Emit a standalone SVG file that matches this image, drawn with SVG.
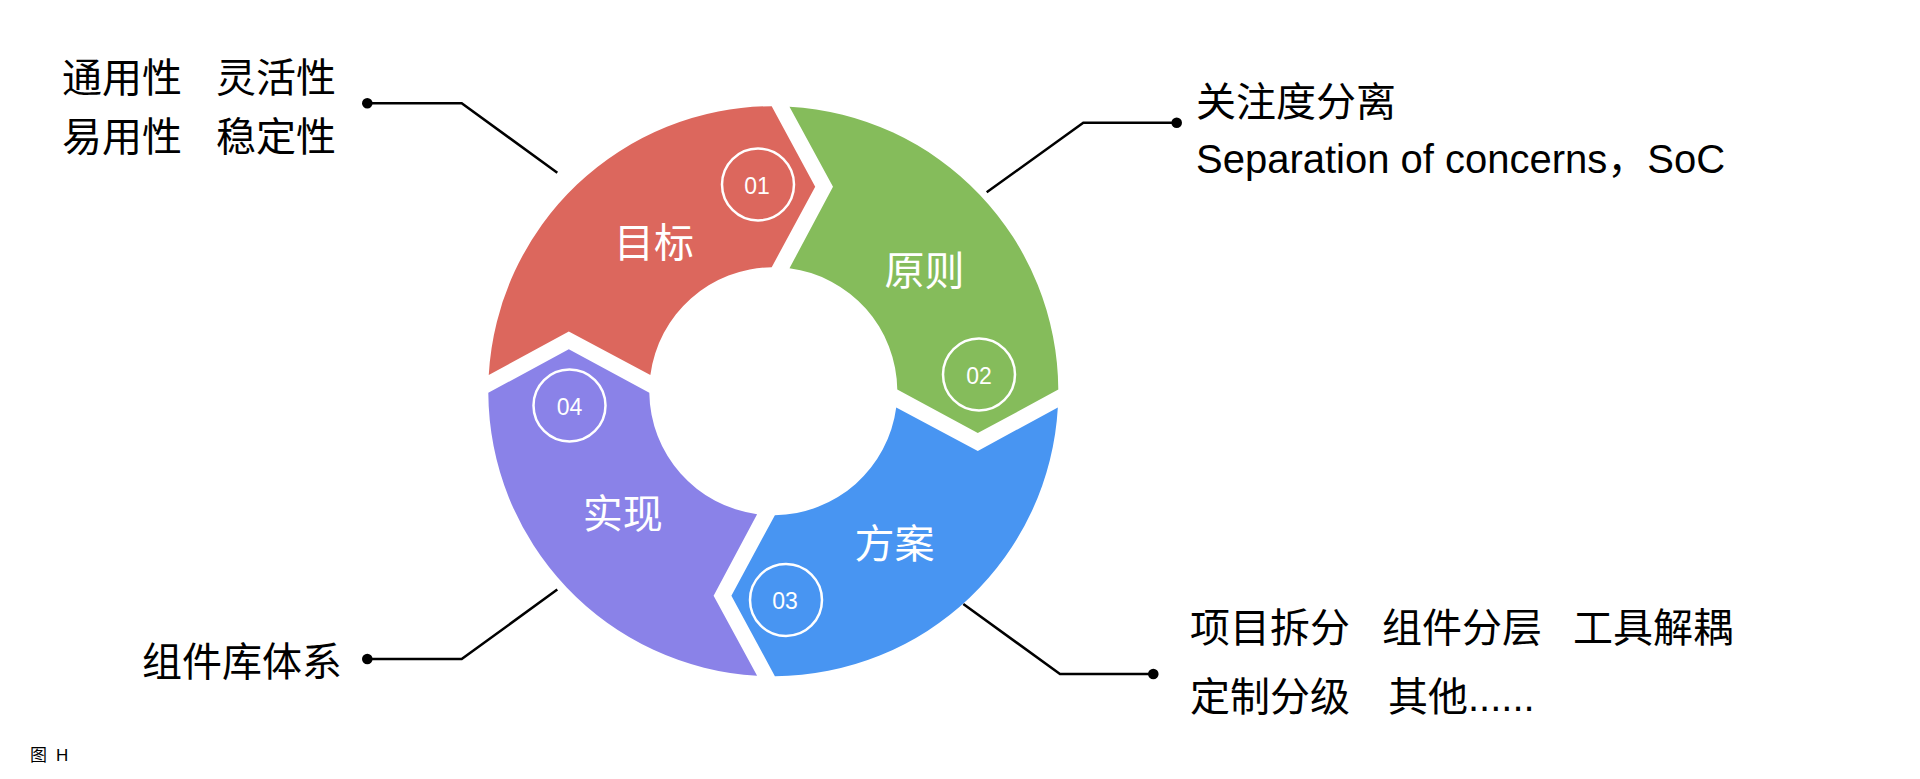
<svg xmlns="http://www.w3.org/2000/svg" xmlns:xlink="http://www.w3.org/1999/xlink" width="1920" height="779" viewBox="0 0 1920 779">
  <style>
    .txt { font-family: "Liberation Sans", "Noto Sans CJK SC", sans-serif; font-size: 40px; fill: #000; }
    .lbl { font-family: "Noto Sans CJK SC", "Liberation Sans", sans-serif; font-size: 40px; fill: #fff; text-anchor: middle; }
    .num { font-family: "Liberation Sans", "Noto Sans CJK SC", sans-serif; font-size: 23px; fill: #fff; text-anchor: middle; }
    .ring { fill: none; stroke: #fff; stroke-width: 2.5; }
    .conn { fill: none; stroke: #000; stroke-width: 2.5; stroke-linejoin: miter; }
    .dot { fill: #000; }
    .cap { font-family: "Liberation Sans", "Noto Sans CJK SC", sans-serif; font-size: 17px; fill: #000; }
  </style>
  <defs>
    <path id="seg" d="M -284.54 -16.2 A 285 285 0 0 1 -1.6 -285 L 41.9 -204.5 L -1.6 -123.99 A 124 124 0 0 0 -122.94 -16.2 L -204.5 -59.7 Z"/>
  </defs>
  <rect width="1920" height="779" fill="#fff"/>

  <g id="node-goal">
    <use xlink:href="#seg" transform="translate(773.3 391.2)" fill="#DC675D"/>
    <circle class="ring" cx="758" cy="184.5" r="36"/>
    <text class="num" x="757" y="194">01</text>
    <text class="lbl" x="654" y="257">目标</text>
  </g>
  <g id="node-principle">
    <use xlink:href="#seg" transform="translate(773.3 391.2) rotate(90)" fill="#85BC5B"/>
    <circle class="ring" cx="979" cy="374.5" r="36"/>
    <text class="num" x="979" y="383.5">02</text>
    <text class="lbl" x="924.5" y="285">原则</text>
  </g>
  <g id="node-plan">
    <use xlink:href="#seg" transform="translate(773.3 391.2) rotate(180)" fill="#4895F2"/>
    <circle class="ring" cx="786" cy="600" r="36"/>
    <text class="num" x="785" y="608.5">03</text>
    <text class="lbl" x="894.5" y="558">方案</text>
  </g>
  <g id="node-impl">
    <use xlink:href="#seg" transform="translate(773.3 391.2) rotate(270)" fill="#8A82E8"/>
    <circle class="ring" cx="569.5" cy="405.5" r="36"/>
    <text class="num" x="569.5" y="415">04</text>
    <text class="lbl" x="622.7" y="528">实现</text>
  </g>

  <g id="connectors">
    <polyline class="conn" points="557.3,172.7 461.7,103.3 367.3,103.3"/>
    <circle class="dot" cx="367.3" cy="103.3" r="5.3"/>
    <polyline class="conn" points="986.7,192.3 1083.3,122.7 1176.7,122.7"/>
    <circle class="dot" cx="1176.7" cy="122.7" r="5.3"/>
    <polyline class="conn" points="963.3,604 1060,674 1153.3,674"/>
    <circle class="dot" cx="1153.3" cy="674" r="5.3"/>
    <polyline class="conn" points="557.3,589.6 461.7,659 367.3,659"/>
    <circle class="dot" cx="367.3" cy="659" r="5.3"/>
  </g>

  <g id="note-goal">
    <text class="txt" y="91.5"><tspan x="62">通用性</tspan> <tspan x="216">灵活性</tspan></text>
    <text class="txt" y="150.5"><tspan x="62">易用性</tspan> <tspan x="216">稳定性</tspan></text>
  </g>
  <g id="note-principle">
    <text class="txt" x="1196" y="116">关注度分离</text>
    <text class="txt" x="1196" y="172.7">Separation of concerns，SoC</text>
  </g>
  <g id="note-plan">
    <text class="txt" y="642"><tspan x="1190">项目拆分</tspan> <tspan x="1382">组件分层</tspan> <tspan x="1573">工具解耦</tspan></text>
    <text class="txt" y="710.5"><tspan x="1190">定制分级</tspan> <tspan x="1388">其他......</tspan></text>
  </g>
  <g id="note-impl">
    <text class="txt" x="142" y="675.5">组件库体系</text>
  </g>
  <text class="cap" y="761"><tspan x="30">图</tspan> <tspan x="56">H</tspan></text>
</svg>
